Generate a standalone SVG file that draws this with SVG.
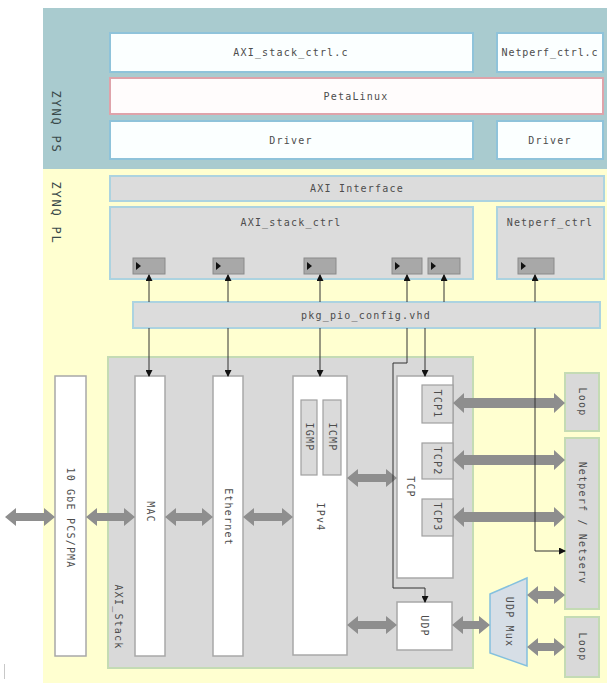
<svg xmlns="http://www.w3.org/2000/svg" width="607" height="683" viewBox="0 0 607 683">
<style>
.t{font-family:"DejaVu Sans Mono","Liberation Mono",monospace;font-size:10px;fill:#4d4d4d;letter-spacing:1.2px;text-anchor:middle;dominant-baseline:central}
.lbl{font-family:"DejaVu Sans Mono","Liberation Mono",monospace;font-size:12px;fill:#3a4a4a;letter-spacing:1.8px;text-anchor:middle;dominant-baseline:central}
.ps{fill:#fbffff;stroke:#8fc3da;stroke-width:2}
.pl{fill:#dcdcdc;stroke:#acd3e0;stroke-width:2}
.stk{fill:#d9d9d9;stroke:#c4dbb4;stroke-width:2}
.w{fill:#ffffff;stroke:#a8a8a8;stroke-width:1.5}
.sub{fill:#dadada;stroke:#a0a0a0;stroke-width:1.2}
.port{fill:#a8a8a8;stroke:#8a8a8a;stroke-width:1}
.tri{fill:#111}
.fat{fill:#8e8e8e}
.ln{fill:none;stroke:#333;stroke-width:1}
</style>
<defs>
<marker id="ah" markerUnits="userSpaceOnUse" markerWidth="7" markerHeight="7" refX="6" refY="3.5" orient="auto">
<path d="M0,0 L7,3.5 L0,7 z" fill="#111"/>
</marker>
</defs>

<g id="regions">
<rect x="43" y="8" width="564" height="161" fill="#a9cbcf"/>
<rect x="43" y="169" width="564" height="514" fill="#ffffd0"/>
<line x1="4.5" y1="664" x2="4.5" y2="679" stroke="#c8c8c8" stroke-width="1"/>
</g>

<g id="zynq-ps-label"><text class="lbl" transform="translate(56,122) rotate(90)">ZYNQ PS</text></g>
<g id="zynq-pl-label"><text class="lbl" transform="translate(56,213) rotate(90)">ZYNQ PL</text></g>

<g id="axi-stack-ctrl-c"><rect class="ps" x="110" y="33" width="363" height="39"/><text class="t" x="291" y="52">AXI_stack_ctrl.c</text></g>
<g id="netperf-ctrl-c"><rect class="ps" x="497" y="33" width="106" height="39"/><text class="t" x="550" y="52" style="letter-spacing:0.9px">Netperf_ctrl.c</text></g>
<g id="petalinux"><rect x="110" y="78" width="493" height="36" fill="#fffcfc" stroke="#dfa3aa" stroke-width="2"/><text class="t" x="356" y="96">PetaLinux</text></g>
<g id="driver1"><rect class="ps" x="110" y="121" width="363" height="38"/><text class="t" x="291" y="140">Driver</text></g>
<g id="driver2"><rect class="ps" x="497" y="121" width="106" height="38"/><text class="t" x="550" y="140">Driver</text></g>

<g id="axi-interface"><rect class="pl" x="110" y="176" width="494" height="25"/><text class="t" x="357" y="188">AXI Interface</text></g>

<g id="axi-stack-ctrl">
<rect class="pl" x="110" y="207" width="363" height="72"/>
<text class="t" x="291" y="222">AXI_stack_ctrl</text>
<rect class="port" x="133" y="258" width="32" height="16"/><path class="tri" d="M136,262 L141,266 L136,270 z"/>
<rect class="port" x="213" y="258" width="31" height="16"/><path class="tri" d="M216,262 L221,266 L216,270 z"/>
<rect class="port" x="304" y="258" width="32" height="16"/><path class="tri" d="M307,262 L312,266 L307,270 z"/>
<rect class="port" x="392" y="258" width="30" height="16"/><path class="tri" d="M395,262 L400,266 L395,270 z"/>
<rect class="port" x="428" y="258" width="32" height="16"/><path class="tri" d="M431,262 L436,266 L431,270 z"/>
</g>

<g id="netperf-ctrl">
<rect class="pl" x="497" y="207" width="107" height="72"/>
<text class="t" x="550" y="222">Netperf_ctrl</text>
<rect class="port" x="518" y="258" width="36" height="16"/><path class="tri" d="M521,262 L526,266 L521,270 z"/>
</g>

<g id="axi-stack">
<rect class="stk" x="108" y="357" width="365" height="311"/>
<text class="t" transform="translate(118,617) rotate(90)">AXI_Stack</text>
</g>

<g id="pcs-pma"><rect class="w" x="55" y="376" width="31" height="280"/><text class="t" transform="translate(70,518) rotate(90)">10 GbE PCS/PMA</text></g>
<g id="mac"><rect class="w" x="135" y="376" width="30" height="280"/><text class="t" transform="translate(150,512) rotate(90)">MAC</text></g>
<g id="ethernet"><rect class="w" x="213" y="376" width="30" height="280"/><text class="t" transform="translate(228,517) rotate(90)">Ethernet</text></g>
<g id="ipv4">
<rect class="w" x="293" y="376" width="54" height="279"/>
<text class="t" transform="translate(320,517) rotate(90)">IPv4</text>
<rect class="sub" x="301" y="400" width="16" height="75"/><text class="t" transform="translate(309,437) rotate(90)">IGMP</text>
<rect class="sub" x="323" y="400" width="18" height="75"/><text class="t" transform="translate(332,437) rotate(90)">ICMP</text>
</g>
<g id="tcp">
<rect class="w" x="397" y="376" width="56" height="202"/>
<text class="t" transform="translate(410,487) rotate(90)">TCP</text>
</g>
<g id="tcp1"><rect class="sub" x="422" y="385" width="31" height="38"/><text class="t" transform="translate(437,404) rotate(90)">TCP1</text></g>
<g id="tcp2"><rect class="sub" x="422" y="443" width="31" height="36"/><text class="t" transform="translate(437,461) rotate(90)">TCP2</text></g>
<g id="tcp3"><rect class="sub" x="422" y="499" width="31" height="37"/><text class="t" transform="translate(437,517) rotate(90)">TCP3</text></g>
<g id="udp"><rect class="w" x="397" y="602" width="55" height="48"/><text class="t" transform="translate(424,626) rotate(90)">UDP</text></g>
<g id="udp-mux"><path d="M490,594 L527,578 L527,666 L490,653 z" fill="#d6dee6" stroke="#84c0de" stroke-width="1.5"/><text class="t" transform="translate(509,622) rotate(90)">UDP Mux</text></g>
<g id="loop1"><rect class="stk" x="565" y="373" width="34" height="58"/><text class="t" transform="translate(582,402) rotate(90)">Loop</text></g>
<g id="netperf-netserv"><rect class="stk" x="565" y="438" width="34" height="171"/><text class="t" transform="translate(582,523) rotate(90)">Netperf / Netserv</text></g>
<g id="loop2"><rect class="stk" x="565" y="617" width="34" height="60"/><text class="t" transform="translate(582,647) rotate(90)">Loop</text></g>

<g id="pkg-pio-config"><rect class="pl" x="133" y="302" width="467" height="26"/><text class="t" x="366" y="315">pkg_pio_config.vhd</text></g>

<g id="connectors">
<polygon class="fat" points="5,517 16,508 16,513 44,513 44,508 55,517 44,526 44,521 16,521 16,526"/>
<polygon class="fat" points="86,517 97,508 97,513 124,513 124,508 135,517 124,526 124,521 97,521 97,526"/>
<polygon class="fat" points="165,517 176,508 176,513 202,513 202,508 213,517 202,526 202,521 176,521 176,526"/>
<polygon class="fat" points="243,517 254,508 254,513 282,513 282,508 293,517 282,526 282,521 254,521 254,526"/>
<polygon class="fat" points="347,478 358,469 358,474 386,474 386,469 397,478 386,487 386,482 358,482 358,487"/>
<polygon class="fat" points="347,625 358,616 358,621 386,621 386,616 397,625 386,634 386,629 358,629 358,634"/>
<polygon class="fat" points="453,403 464,393 464,398 554,398 554,393 565,403 554,413 554,408 464,408 464,413"/>
<polygon class="fat" points="453,460 464,450 464,455 554,455 554,450 565,460 554,470 554,465 464,465 464,470"/>
<polygon class="fat" points="453,517 464,507 464,512 554,512 554,507 565,517 554,527 554,522 464,522 464,527"/>
<polygon class="fat" points="452,625 463,616 463,621 479,621 479,616 490,625 479,634 479,629 463,629 463,634"/>
<polygon class="fat" points="527,595 538,586 538,591 554,591 554,586 565,595 554,604 554,599 538,599 538,604"/>
<polygon class="fat" points="527,647 538,638 538,643 554,643 554,638 565,647 554,656 554,651 538,651 538,656"/>

<path class="ln" d="M149,302 V275" marker-end="url(#ah)"/>
<path class="ln" d="M149,328 V376" marker-end="url(#ah)"/>
<path class="ln" d="M228,302 V275" marker-end="url(#ah)"/>
<path class="ln" d="M228,328 V376" marker-end="url(#ah)"/>
<path class="ln" d="M320,302 V275" marker-end="url(#ah)"/>
<path class="ln" d="M320,328 V376" marker-end="url(#ah)"/>
<path class="ln" d="M407,302 V275" marker-end="url(#ah)"/>
<path class="ln" d="M407,328 V363 H393 V588 H425 V602" marker-end="url(#ah)"/>
<path class="ln" d="M444,302 V275" marker-end="url(#ah)"/>
<path class="ln" d="M425,328 V376" marker-end="url(#ah)"/>
<path class="ln" d="M535,302 V275" marker-end="url(#ah)"/>
<path class="ln" d="M535,328 V551 H565" marker-end="url(#ah)"/>
</g>
</svg>
